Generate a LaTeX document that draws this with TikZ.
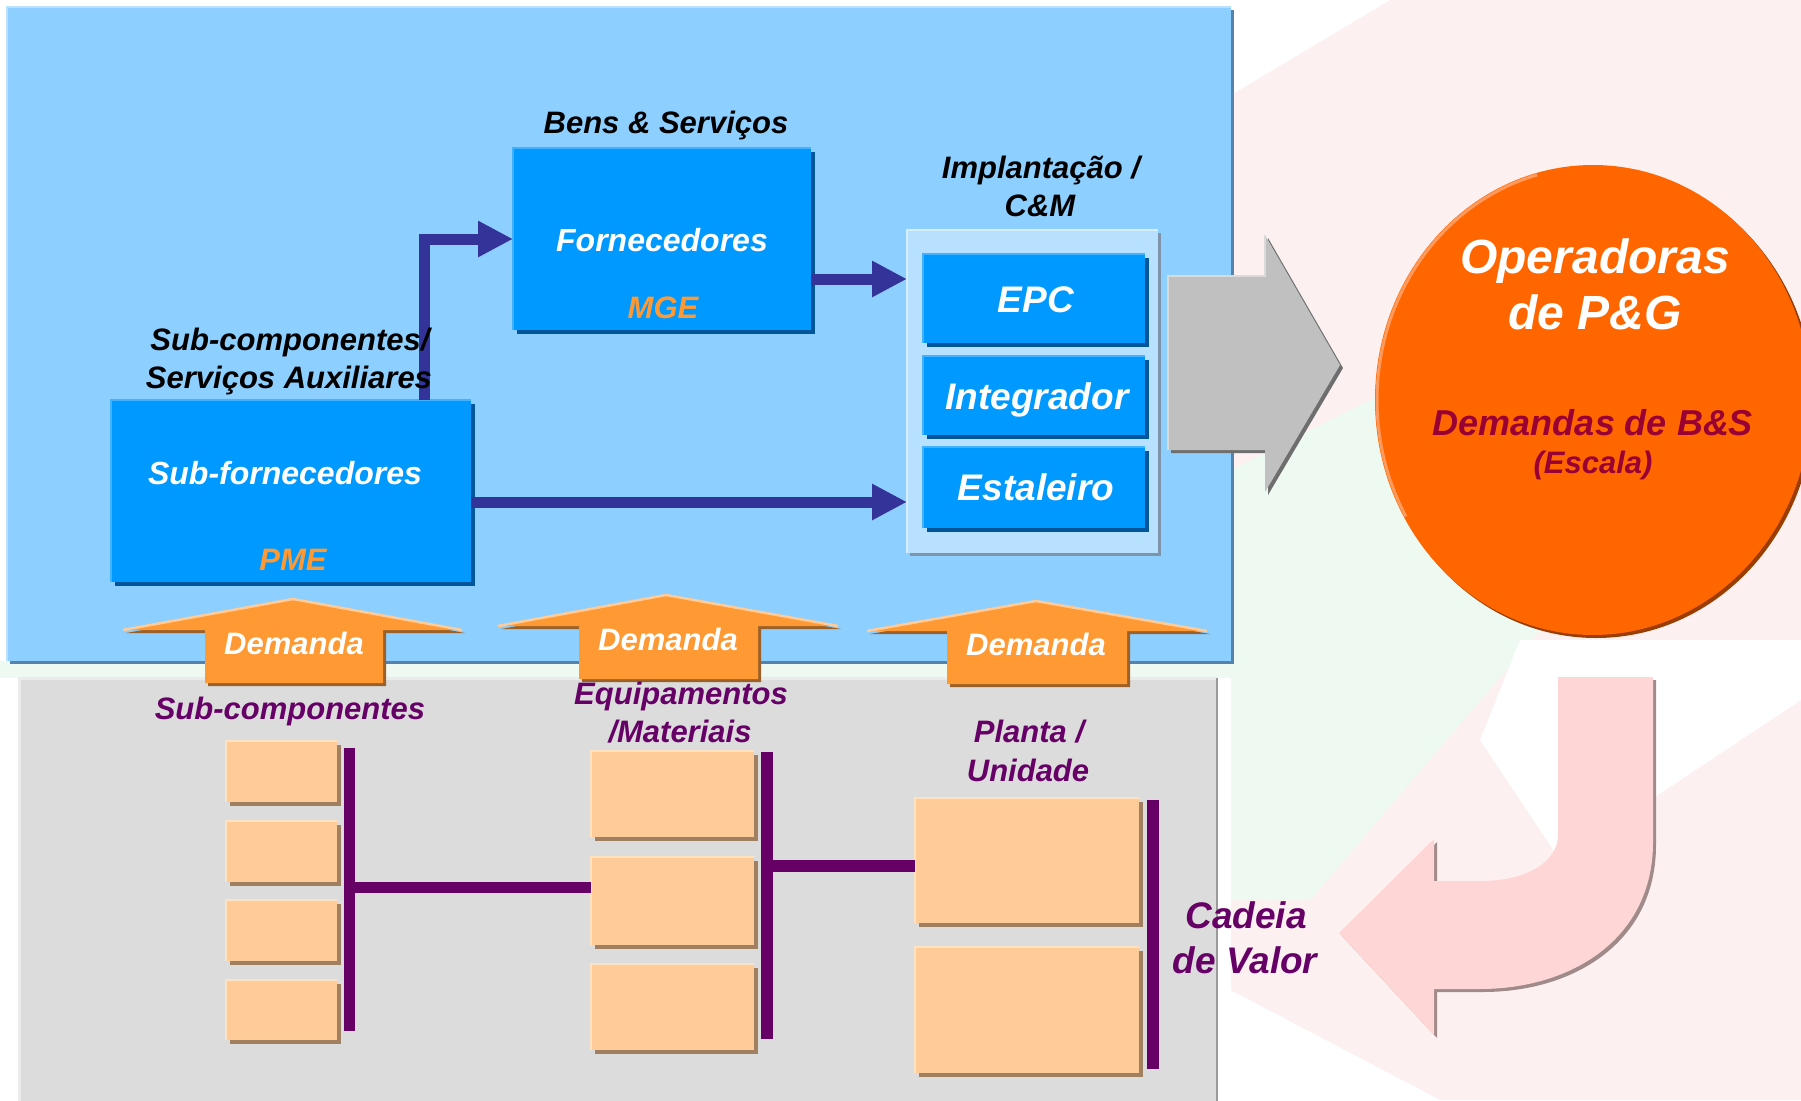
\documentclass[tikz,border=0pt]{standalone}
\usepackage{fontspec}
\setmainfont{Liberation Sans}
\usetikzlibrary{shapes.geometric,shadows,arrows.meta}
\definecolor{wmpink}{HTML}{FCF0F0}
\definecolor{wmgreen}{HTML}{EEF9F1}
\definecolor{panelblue}{HTML}{8DCFFE}
\definecolor{panelshadow}{HTML}{5583AD}
\definecolor{panelhl}{HTML}{B8E2FF}
\definecolor{panelgray}{HTML}{DCDCDC}
\definecolor{grayhl}{HTML}{EBEBEB}
\definecolor{grayedge}{HTML}{9A9A9A}
\definecolor{boxblue}{HTML}{0099FF}
\definecolor{boxshadow}{HTML}{00559B}
\definecolor{boxhl}{HTML}{40B2FF}
\definecolor{contfill}{HTML}{B8E0FF}
\definecolor{contshadow}{HTML}{7F94AA}
\definecolor{conthl}{HTML}{D6EEFF}
\definecolor{navyc}{HTML}{333399}
\definecolor{demfill}{HTML}{FF9933}
\definecolor{demhl}{HTML}{FFCC99}
\definecolor{demshadow}{HTML}{9C6128}
\definecolor{peach}{HTML}{FFCC99}
\definecolor{peachhl}{HTML}{FFE2C2}
\definecolor{peachshadow}{HTML}{A08060}
\definecolor{purp}{HTML}{660066}
\definecolor{orangec}{HTML}{FF6600}
\definecolor{orangeshadow}{HTML}{993D00}
\definecolor{orangehl}{HTML}{FF9A5C}
\definecolor{redtxt}{HTML}{990033}
\definecolor{orangetxt}{HTML}{FF9933}
\definecolor{arrgray}{HTML}{C0C0C0}
\definecolor{arrgrayshadow}{HTML}{6E6E6E}
\definecolor{arrgrayhl}{HTML}{DADADA}
\definecolor{pinkarr}{HTML}{FFD6D6}
\definecolor{pinkshadow}{HTML}{A08A8A}
\tikzset{
  boxbase/.style={rectangle, inner sep=0pt, outer sep=0pt},
  bluebox/.style={boxbase, fill=boxblue, drop shadow={shadow xshift=4pt, shadow yshift=-4pt, fill=boxshadow, opacity=1}},
  contbox/.style={boxbase, fill=contfill, drop shadow={shadow xshift=3pt, shadow yshift=-3pt, fill=contshadow, opacity=1}},
  peachbox/.style={boxbase, fill=peach, drop shadow={shadow xshift=4pt, shadow yshift=-4pt, fill=peachshadow, opacity=1}},
  txt/.style={inner sep=0pt, outer sep=0pt, anchor=base},
  fsz/.style={font=\fontsize{#1}{#1}\selectfont\bfseries\itshape},
  flow/.style={draw=navyc, line width=11pt, -{Triangle[length=35pt,width=34pt]}},
  bar/.style={draw=purp, line width=11pt},
}
\newcommand\HiLite[2]{\draw[line width=2.5pt, draw=#2] (#1.south west) -- (#1.north west) -- (#1.north east);}
\newcommand\DemArrow[8]{%
  \fill[demshadow, shift={(3,3)}] (#1,#2) -- (#5,#3) -- (#7,#3) -- (#7,#8) -- (#6,#8) -- (#6,#3) -- (#4,#3) -- cycle;
  \fill[demfill] (#1,#2) -- (#5,#3) -- (#7,#3) -- (#7,#8) -- (#6,#8) -- (#6,#3) -- (#4,#3) -- cycle;
  \draw[demhl, line width=2.5pt, line join=round] (#4,#3) -- (#1,#2) -- (#5,#3);
}
\begin{document}
\begin{tikzpicture}[x=1pt, y=-1pt]
\useasboundingbox (0,0) rectangle (1801,1100);
\clip (0,0) rectangle (1801,1100);
% watermark background
\fill[white] (0,0) rectangle (1801,1100);
\fill[wmpink] (1231,0) rectangle (1801,1100);
\fill[white] (1231,0) -- (1390,0) -- (1231,95) -- cycle;
\fill[wmgreen] (1231,470) -- (1380,395) -- (1600,560) -- (1310,900) -- (1231,900) -- cycle;
\fill[white] (1520,640) -- (1801,640) -- (1801,700) -- (1560,860) -- (1480,740) -- cycle;
\fill[white] (1217,983) -- (1440,1100) -- (1217,1100) -- cycle;
\fill[wmgreen] (0,661) rectangle (1231,678);

% panels
\node[boxbase, fill=panelblue, minimum width=1224pt, minimum height=654pt,
      drop shadow={shadow xshift=3pt, shadow yshift=-3pt, fill=panelshadow, opacity=1}] (bluepanel) at (619,334) {};
\HiLite{bluepanel}{panelhl}
\node[boxbase, fill=panelgray, minimum width=1198pt, minimum height=440pt] (graypanel) at (618,898) {};
\draw[line width=3pt, grayhl] (graypanel.south west) -- (graypanel.north west) -- (graypanel.north east);
\draw[line width=2pt, grayedge] (graypanel.north east) -- (graypanel.south east);

% upper boxes
\node[bluebox, minimum width=298pt, minimum height=182pt] (forn) at (662,239) {};
\HiLite{forn}{boxhl}
\node[bluebox, minimum width=360pt, minimum height=182pt] (sf) at (291,491) {};
\HiLite{sf}{boxhl}
\node[contbox, minimum width=251pt, minimum height=323pt] (cont) at (1032.5,391.5) {};
\HiLite{cont}{conthl}
\node[bluebox, minimum width=222pt, minimum height=89pt] (epc) at (1034,298.5) {};
\HiLite{epc}{boxhl}
\node[bluebox, minimum width=222pt, minimum height=79pt] (integ) at (1034,395.5) {};
\HiLite{integ}{boxhl}
\node[bluebox, minimum width=222pt, minimum height=81pt] (estal) at (1034,487.5) {};
\HiLite{estal}{boxhl}

% flow arrows
\draw[flow] (sf.north -| 424,0) |- (forn.west);
\draw[flow] ([yshift=-40pt]forn.east) -- ([yshift=-40pt]forn.east -| cont.west);
\draw[flow] ([yshift=-11pt]sf.east) -- ([yshift=-11pt]sf.east -| cont.west);

% gray big arrow
\fill[arrgrayshadow, shift={(3,3)}] (1168,276) -- (1265,276) -- (1265,235) -- (1340,365) -- (1265,492) -- (1265,450) -- (1168,450) -- cycle;
\fill[arrgray] (1168,276) -- (1265,276) -- (1265,235) -- (1340,365) -- (1265,492) -- (1265,450) -- (1168,450) -- cycle;
\draw[arrgrayhl, line width=2.5pt] (1168,450) -- (1168,276) -- (1265,276) -- (1265,235);

% circle
\node[ellipse, inner sep=0pt, fill=orangec, minimum width=436pt, minimum height=470pt,
      drop shadow={shadow xshift=3pt, shadow yshift=-3pt, fill=orangeshadow, opacity=1}] (circ) at (1593,400) {};
\draw[orangehl, line width=3pt] (circ.center) ++(255:216 and 233) arc[start angle=255, end angle=150, x radius=216, y radius=233];

% pink U-turn arrow
\fill[pinkshadow, shift={(3,3)}] (1558,677) -- (1653,677) -- (1653,842) .. controls (1653,940) and (1570,989) .. (1480,989) -- (1434,989) -- (1434,1035) -- (1339,933) -- (1434,839) -- (1434,881) -- (1480,881) .. controls (1530,881) and (1558,860) .. (1558,835) -- cycle;
\fill[pinkarr] (1558,677) -- (1653,677) -- (1653,842) .. controls (1653,940) and (1570,989) .. (1480,989) -- (1434,989) -- (1434,1035) -- (1339,933) -- (1434,839) -- (1434,881) -- (1480,881) .. controls (1530,881) and (1558,860) .. (1558,835) -- cycle;

% demand arrows
\DemArrow{293}{599}{630}{123}{462}{205}{383}{683}
\DemArrow{666}{595}{626}{498}{838}{579}{758}{679}
\DemArrow{1036}{601}{631}{867}{1207}{947}{1127}{684}

% peach boxes
\node[peachbox, minimum width=111pt, minimum height=61pt] (p1a) at (281.5,771.5) {};
\node[peachbox, minimum width=111pt, minimum height=61pt] (p1b) at (281.5,851.5) {};
\node[peachbox, minimum width=111pt, minimum height=61pt] (p1c) at (281.5,930.5) {};
\node[peachbox, minimum width=111pt, minimum height=60pt] (p1d) at (281.5,1010) {};
\node[peachbox, minimum width=163pt, minimum height=86pt] (p2a) at (672.5,794) {};
\node[peachbox, minimum width=163pt, minimum height=88pt] (p2b) at (672.5,901) {};
\node[peachbox, minimum width=163pt, minimum height=86pt] (p2c) at (672.5,1007) {};
\node[peachbox, minimum width=224pt, minimum height=125pt] (p3a) at (1027,860.5) {};
\node[peachbox, minimum width=224pt, minimum height=126pt] (p3b) at (1027,1010) {};
\foreach \n in {p1a,p1b,p1c,p1d,p2a,p2b,p2c,p3a,p3b} {\HiLite{\n}{peachhl}}

% purple bars
\coordinate (b1t) at (349,748);
\coordinate (b1b) at (349,1031);
\coordinate (b1m) at (349,887);
\coordinate (b2t) at (767,752);
\coordinate (b2b) at (767,1039);
\coordinate (b2m) at (767,866);
\coordinate (b3t) at (1153,800);
\coordinate (b3b) at (1153,1069);
\draw[bar] (b1t) -- (b1b);
\draw[bar, line width=12pt] (b2t) -- (b2b);
\draw[bar, line width=12pt] (b3t) -- (b3b);
\draw[bar] (b1m) -- (b1m -| p2b.west);
\draw[bar, line width=12pt] (b2m) -- (b2m -| p3a.west);

% texts
\node[txt, fsz=31] (tbens) at (666,133) {Bens \& Serviços};
\node[txt, fsz=32, white] (tforn) at (662,251) {Fornecedores};
\node[txt, fsz=31, orangetxt] (tmge) at (663,318) {MGE};
\node[txt, fsz=31] (tsub1) at (290,350) {Sub-componentes/};
\node[txt, fsz=31] (tsub2) at (289,388) {Serviços Auxiliares};
\node[txt, fsz=32, white] (tsf) at (285,484) {Sub-fornecedores};
\node[txt, fsz=31, orangetxt] (tpme) at (293,570) {PME};
\node[txt, fsz=31] (timp1) at (1041,178) {Implantação /};
\node[txt, fsz=31] (timp2) at (1040,216) {C\&M};
\node[txt, fsz=37, white] (tepc) at (1036,312) {EPC};
\node[txt, fsz=37, white] (tint) at (1037,409) {Integrador};
\node[txt, fsz=37, white] (test) at (1036,500) {Estaleiro};
\node[txt, fsz=48, white] (top1) at (1595,273) {Operadoras};
\node[txt, fsz=48, white] (top2) at (1595,329) {de P\&G};
\node[txt, fsz=36, redtxt] (tdem) at (1593,435) {Demandas de B\&S};
\node[txt, fsz=31, redtxt] (tesc) at (1593,473) {(Escala)};
\node[txt, fsz=31, white] (d1) at (294,654) {Demanda};
\node[txt, fsz=31, white] (d2) at (668,650) {Demanda};
\node[txt, fsz=31, white] (d3) at (1036,655) {Demanda};
\node[txt, fsz=31, purp] (tsc) at (290,719) {Sub-componentes};
\node[txt, fsz=31, purp] (teq1) at (681,704) {Equipamentos};
\node[txt, fsz=31, purp] (teq2) at (680,742) {/Materiais};
\node[txt, fsz=31, purp] (tpl1) at (1029,742) {Planta /};
\node[txt, fsz=31, purp] (tpl2) at (1028,781) {Unidade};
\node[txt, fsz=37, purp] (tcv1) at (1246,928) {Cadeia};
\node[txt, fsz=37, purp] (tcv2) at (1245,973) {de Valor};
\end{tikzpicture}
\end{document}
